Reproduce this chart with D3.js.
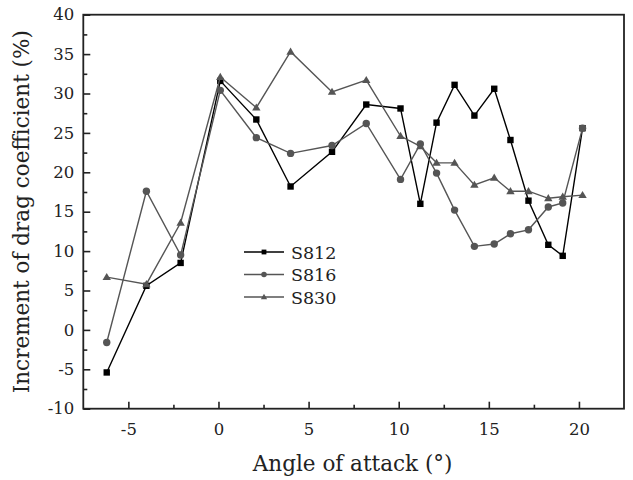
<!DOCTYPE html>
<html>
<head>
<meta charset="utf-8">
<script src="https://cdn.jsdelivr.net/npm/d3@7"></script>
<style>
  body { margin: 0; background: #fff; }
</style>
</head>
<body>
<svg id="chart" width="633" height="480"></svg>
<script>
// angle of attack (deg)
var angles = [-6.2, -4.0, -2.1, 0.1, 2.1, 4.0, 6.3, 8.2, 10.1, 11.2, 12.1, 13.1, 14.2, 15.3, 16.2, 17.2, 18.3, 19.1, 20.2];
var s812 = [-5.4, 5.6, 8.5, 31.6, 26.7, 18.2, 22.6, 28.6, 28.1, 16.0, 26.3, 31.1, 27.2, 30.6, 24.1, 16.4, 10.8, 9.4, 25.6];
var s816 = [-1.6, 17.6, 9.5, 30.4, 24.4, 22.4, 23.4, 26.2, 19.1, 23.6, 19.9, 15.2, 10.6, 10.9, 12.2, 12.7, 15.6, 16.1, 25.6];
var s830 = [6.7, 5.8, 13.6, 32.1, 28.2, 35.3, 30.2, 31.7, 24.6, 23.3, 21.2, 21.2, 18.4, 19.3, 17.6, 17.6, 16.7, 16.9, 17.1];
var seriesNames = ["S812", "S816", "S830"];
var xTicks = [-5, 0, 5, 10, 15, 20];
var yTicks = [-10, -5, 0, 5, 10, 15, 20, 25, 30, 35, 40];

var FONT = "'DejaVu Serif', 'Liberation Serif', serif";
var svg = d3.select("#chart");
var mLeft = 83.3, mRight = 624, mTop = 14.7, mBottom = 408.7;

var x = d3.scaleLinear().domain([-7.5, 22.5]).range([mLeft, mRight]);
var y = d3.scaleLinear().domain([-10, 40]).range([mBottom, mTop]);

var series = [
  { name: seriesNames[0], values: s812, color: "#000", marker: "square" },
  { name: seriesNames[1], values: s816, color: "#555", marker: "circle" },
  { name: seriesNames[2], values: s830, color: "#555", marker: "triangle" }
];

function drawMarker(g, type, color, cx, cy, s) {
  s = s || 1;
  if (type === "square") {
    g.append("rect").attr("x", cx - 3.2 * s).attr("y", cy - 3.2 * s)
      .attr("width", 6.4 * s).attr("height", 6.4 * s).attr("fill", color);
  } else if (type === "circle") {
    g.append("circle").attr("cx", cx).attr("cy", cy).attr("r", 3.7 * s).attr("fill", color);
  } else {
    var h = 4.2 * s;
    g.append("path")
      .attr("d", "M" + cx + "," + (cy - h) + "L" + (cx + h) + "," + (cy + h * 0.7) + "L" + (cx - h) + "," + (cy + h * 0.7) + "Z")
      .attr("fill", color);
  }
}

// lines and markers
var line = d3.line().x(function(d) { return x(d[0]); }).y(function(d) { return y(d[1]); });
series.forEach(function(s) {
  var pts = angles.map(function(a, i) { return [a, s.values[i]]; });
  var g = svg.append("g");
  g.append("path").attr("d", line(pts)).attr("fill", "none")
    .attr("stroke", s.color).attr("stroke-width", 1.4);
  pts.forEach(function(p) { drawMarker(g, s.marker, s.color, x(p[0]), y(p[1])); });
});

// axes (ticks inside), plain hyphen for negatives like the original
var fmt = function(d) { return String(d); };
var xAxis = d3.axisBottom(x).tickValues(xTicks).tickSize(-7).tickPadding(15).tickFormat(fmt);
var xMinor = d3.axisBottom(x).tickValues([-2.5, 2.5, 7.5, 12.5, 17.5]).tickSize(-4).tickFormat("");
var yAxis = d3.axisLeft(y).tickValues(yTicks).tickSize(-7).tickPadding(9).tickFormat(fmt);
var yMinor = d3.axisLeft(y).tickValues(d3.range(-7.5, 40, 5)).tickSize(-4).tickFormat("");

[ [xAxis, "translate(0," + mBottom + ")"], [xMinor, "translate(0," + mBottom + ")"],
  [yAxis, "translate(" + mLeft + ",0)"], [yMinor, "translate(" + mLeft + ",0)"] ].forEach(function(a) {
  var g = svg.append("g").attr("transform", a[1]).call(a[0]).attr("font-family", FONT);
  g.select(".domain").remove();
  g.selectAll("line").attr("stroke", "#222").attr("stroke-width", 1.6);
  g.selectAll("text").attr("font-size", 16.5).attr("fill", "#222").style("font-family", FONT);
});

// frame
svg.append("rect").attr("x", mLeft).attr("y", mTop)
  .attr("width", mRight - mLeft).attr("height", mBottom - mTop)
  .attr("fill", "none").attr("stroke", "#222").attr("stroke-width", 1.8);

// titles
svg.append("text").attr("x", (mLeft + mRight) / 2 - 1).attr("y", 471)
  .attr("text-anchor", "middle").attr("font-size", 21.5).attr("fill", "#222")
  .style("font-family", FONT).text("Angle of attack (°)");
svg.append("text").attr("transform", "translate(29," + ((mTop + mBottom) / 2) + ") rotate(-90)")
  .attr("text-anchor", "middle").attr("font-size", 21.5).attr("fill", "#222")
  .style("font-family", FONT).text("Increment of drag coefficient (%)");

// legend
var legend = svg.append("g");
series.forEach(function(s, i) {
  var ly = 252 + i * 22.5;
  legend.append("line").attr("x1", 244).attr("x2", 284).attr("y1", ly).attr("y2", ly)
    .attr("stroke", s.color).attr("stroke-width", 1.4);
  drawMarker(legend, s.marker, s.color, 264, ly, 0.75);
  legend.append("text").attr("x", 291).attr("y", ly + 6.5).attr("font-size", 17.5)
    .attr("fill", "#222").style("font-family", FONT).text(s.name);
});
</script>
</body>
</html>
